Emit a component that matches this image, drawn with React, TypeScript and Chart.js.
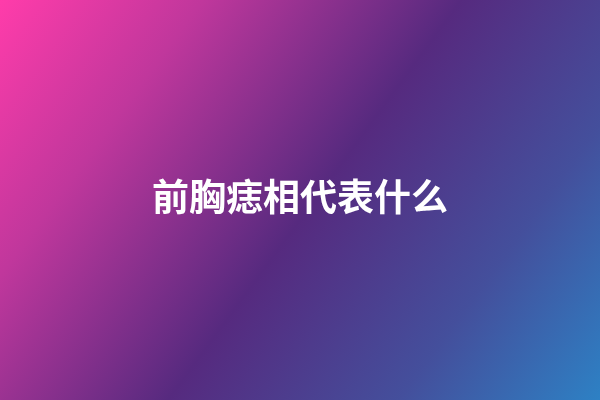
import { useEffect, useRef } from 'react';
import { Chart, ChartConfiguration, registerables } from 'chart.js';

Chart.register(...registerables);

// no plotted series in this picture: only a title over a gradient card
const categories: string[] = [];
const seriesValues: number[] = [];
const titleText = '前胸痣相代表什么';

const gradientStops: [number, string][] = [
    [0, '#ff3caa'],
    [0.22, '#c0379c'],
    [0.5, '#562a7f'],
    [0.75, '#444f9c'],
    [1, '#2a88ca'],
];

const gradientBackground = {
    id: 'gradientBackground',
    beforeDraw: (chart: Chart) => {
        const { ctx, width, height } = chart;
        const g = ctx.createLinearGradient(0, 0, width, height * 1.1);
        gradientStops.forEach(([at, color]) => g.addColorStop(at, color));
        ctx.save();
        ctx.fillStyle = g;
        ctx.fillRect(0, 0, width, height);
        ctx.restore();
    },
};

const App = () => {
    const chartRef = useRef<Chart | null>(null);
    const canvasRef = useRef<HTMLCanvasElement | null>(null);

    useEffect(() => {
        document.body.style.margin = '0';
        if (!canvasRef.current) return;
        if (chartRef.current) chartRef.current.destroy();

        const ctx = canvasRef.current.getContext('2d');
        if (!ctx) return;

        const config: ChartConfiguration<'bar', number[], string> = {
            type: 'bar',
            data: {
                labels: categories,
                datasets: [{ label: 'none', data: seriesValues }],
            },
            options: {
                responsive: false,
                animation: false,
                layout: { padding: 0 },
                plugins: {
                    legend: { display: false },
                    tooltip: { enabled: false },
                    title: {
                        display: true,
                        text: titleText,
                        color: '#ffffff',
                        align: 'center',
                        padding: { top: 175, bottom: 0 },
                        font: {
                            family: '"Noto Sans CJK SC", "Noto Sans", sans-serif',
                            size: 37,
                            weight: 'bold',
                            lineHeight: 1.2,
                        },
                    },
                },
                scales: {
                    x: { display: false },
                    y: { display: false },
                },
            },
            plugins: [gradientBackground],
        };

        chartRef.current = new Chart(ctx, config);

        return () => {
            if (chartRef.current) {
                chartRef.current.destroy();
                chartRef.current = null;
            }
        };
    }, []);

    return (
        <div style={{ position: 'absolute', left: 0, top: 0, width: 600, height: 400 }}>
            <canvas ref={canvasRef} width="600" height="400"></canvas>
        </div>
    );
};

export default App;
